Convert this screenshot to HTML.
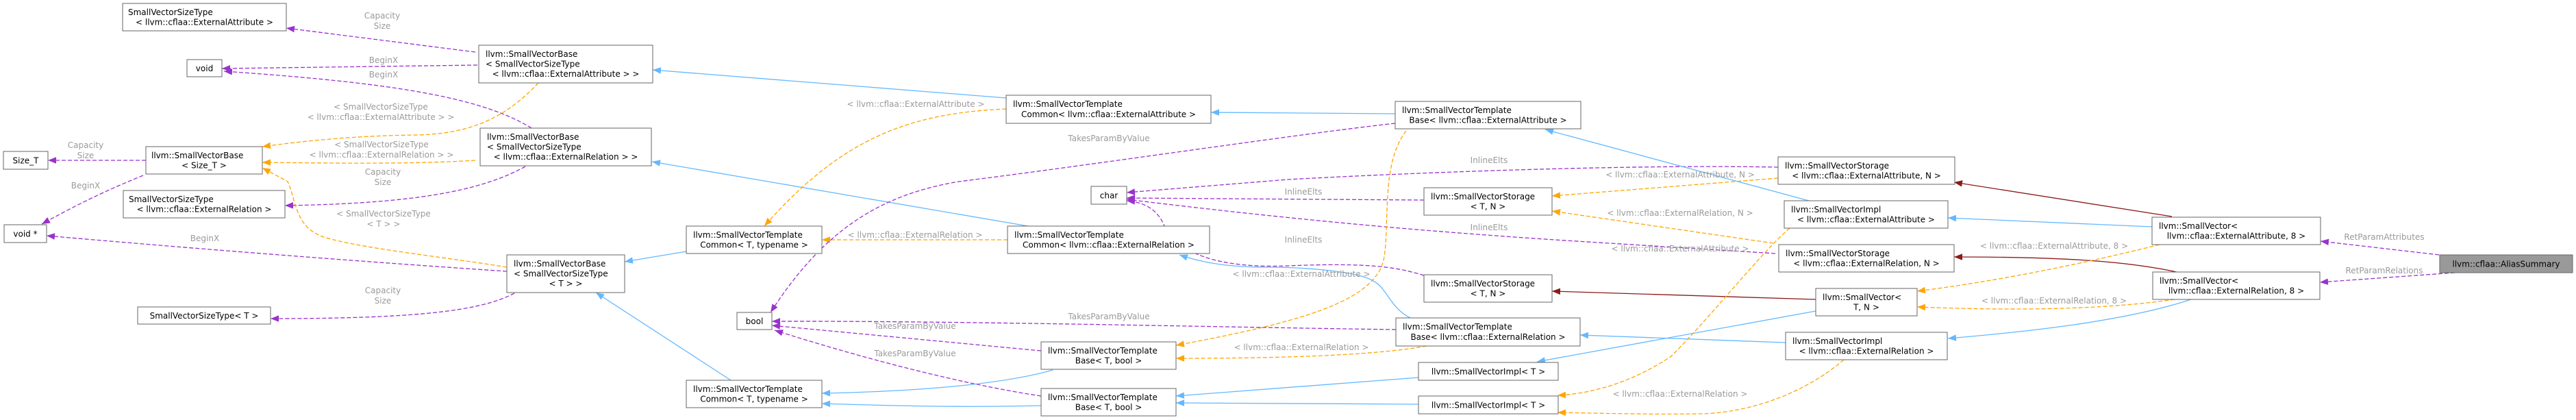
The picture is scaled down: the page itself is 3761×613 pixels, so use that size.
<!DOCTYPE html>
<html><head><meta charset="utf-8"><style>
html,body{margin:0;padding:0;background:#fff;}
svg{display:block;}
.n{fill:#fff;stroke:#666;stroke-width:1;}
.t{font-family:"DejaVu Sans","Liberation Sans",sans-serif;font-size:12px;fill:#000;}
.l{font-family:"DejaVu Sans","Liberation Sans",sans-serif;font-size:12px;fill:#9a9a9a;text-anchor:middle;}
.P{fill:none;stroke:#9a32cd;stroke-width:1.3;stroke-dasharray:6,3;}
.O{fill:none;stroke:#ffa500;stroke-width:1.3;stroke-dasharray:6,3;}
.B{fill:none;stroke:#63b8ff;stroke-width:1.3;}
.R{fill:none;stroke:#8b1a1a;stroke-width:1.3;}
</style></head><body>
<svg width="3761" height="613" viewBox="0 0 3761 613" xmlns="http://www.w3.org/2000/svg">
<defs>
<marker id="mP" markerUnits="userSpaceOnUse" markerWidth="12" markerHeight="10" viewBox="0 0 10 8" refX="10" refY="4" orient="auto"><path d="M0,0 L10,4 L0,8 z" fill="#9a32cd"/></marker>
<marker id="mO" markerUnits="userSpaceOnUse" markerWidth="12" markerHeight="10" viewBox="0 0 10 8" refX="10" refY="4" orient="auto"><path d="M0,0 L10,4 L0,8 z" fill="#ffa500"/></marker>
<marker id="mB" markerUnits="userSpaceOnUse" markerWidth="12" markerHeight="10" viewBox="0 0 10 8" refX="10" refY="4" orient="auto"><path d="M0,0 L10,4 L0,8 z" fill="#63b8ff"/></marker>
<marker id="mR" markerUnits="userSpaceOnUse" markerWidth="12" markerHeight="10" viewBox="0 0 10 8" refX="10" refY="4" orient="auto"><path d="M0,0 L10,4 L0,8 z" fill="#8b1a1a"/></marker>
</defs>

<!-- edges -->
<g>
<path class="P" marker-end="url(#mP)" d="M694,76 L418,41"/>
<path class="P" marker-end="url(#mP)" d="M697,95 L324,100"/>
<path class="P" marker-end="url(#mP)" d="M776,187 C700,140 560,120 327,104"/>
<path class="O" marker-end="url(#mO)" d="M786,121 C740,170 690,195 610,197 C520,198 450,205 383,214"/>
<path class="O" marker-end="url(#mO)" d="M694,234 C600,240 480,238 383,237"/>
<path class="P" marker-end="url(#mP)" d="M767,243 C700,280 600,297 416,300"/>
<path class="P" marker-end="url(#mP)" d="M213,234 L70,234"/>
<path class="P" marker-end="url(#mP)" d="M209,256 C150,280 110,300 61,327"/>
<path class="O" marker-end="url(#mO)" d="M740,390 C650,375 520,362 470,345 C430,330 432,290 420,265 L383,245"/>
<path class="P" marker-end="url(#mP)" d="M740,396 C500,380 250,360 68,344"/>
<path class="P" marker-end="url(#mP)" d="M751,428 C700,455 600,465 395,465"/>
<path class="B" marker-end="url(#mB)" d="M1002,367 L912,382"/>
<path class="B" marker-end="url(#mB)" d="M1067,555 L870,427"/>
<path class="B" marker-end="url(#mB)" d="M1469,143 L953,102"/>
<path class="B" marker-end="url(#mB)" d="M1501,330 L952,236"/>
<path class="O" marker-end="url(#mO)" d="M1469,159 C1330,165 1230,200 1116,330"/>
<path class="O" marker-end="url(#mO)" d="M1471,350 L1200,350"/>
<path class="P" marker-end="url(#mP)" d="M2037,180 C1900,195 1600,240 1400,265 C1280,285 1200,340 1125,456"/>
<path class="P" marker-end="url(#mP)" d="M2596,244 C2400,240 2100,250 1880,262 L1645,281"/>
<path class="P" marker-end="url(#mP)" d="M2079,292 L1645,289"/>
<path class="P" marker-end="url(#mP)" d="M2592,370 L2350,355 C2100,340 1900,322 1645,291"/>
<path class="P" marker-end="url(#mP)" d="M2079,402 C2040,390 2000,383 1880,388 C1780,392 1720,370 1700,330 C1690,305 1670,295 1645,293"/>
<path class="B" marker-end="url(#mB)" d="M2037,166 L1768,164"/>
<path class="O" marker-end="url(#mO)" d="M2053,191 C2015,240 2030,330 2020,380 C2005,440 1900,470 1717,504"/>
<path class="O" marker-end="url(#mO)" d="M2083,505 C2000,520 1850,523 1717,523"/>
<path class="P" marker-end="url(#mP)" d="M2038,481 C1800,478 1400,468 1127,469"/>
<path class="P" marker-end="url(#mP)" d="M1520,512 L1127,475"/>
<path class="P" marker-end="url(#mP)" d="M1520,578 C1400,560 1250,520 1131,482"/>
<path class="B" marker-end="url(#mB)" d="M1537,540 C1450,565 1300,572 1200,574"/>
<path class="B" marker-end="url(#mB)" d="M1520,592 C1400,595 1300,592 1200,589"/>
<path class="B" marker-end="url(#mB)" d="M2059,464 C2030,450 2025,420 2005,410 C1980,395 1900,390 1850,390 C1800,390 1760,385 1722,372"/>
<path class="B" marker-end="url(#mB)" d="M2641,293 L2256,189"/>
<path class="O" marker-end="url(#mO)" d="M2596,260 L2266,286"/>
<path class="O" marker-end="url(#mO)" d="M2589,355 L2266,308"/>
<path class="R" marker-end="url(#mR)" d="M2651,437 L2266,425"/>
<path class="B" marker-end="url(#mB)" d="M2651,454 L2244,528"/>
<path class="B" marker-end="url(#mB)" d="M2607,500 L2307,489"/>
<path class="B" marker-end="url(#mB)" d="M2071,551 L1717,578"/>
<path class="B" marker-end="url(#mB)" d="M2071,590 L1717,588"/>
<path class="O" marker-end="url(#mO)" d="M2613,333 C2570,370 2500,460 2440,520 C2380,560 2320,575 2274,577"/>
<path class="O" marker-end="url(#mO)" d="M2692,525 C2640,570 2560,603 2480,604 C2400,605 2330,603 2274,602"/>
<path class="R" marker-end="url(#mR)" d="M3171,316 L2853,266"/>
<path class="B" marker-end="url(#mB)" d="M3142,331 L2844,318"/>
<path class="R" marker-end="url(#mR)" d="M3178,397 C3100,380 3000,375 2853,375"/>
<path class="O" marker-end="url(#mO)" d="M3153,357 C3000,395 2880,415 2799,425"/>
<path class="O" marker-end="url(#mO)" d="M3175,437 C3050,455 2900,452 2799,448"/>
<path class="B" marker-end="url(#mB)" d="M3199,437 C3100,470 2950,485 2844,494"/>
<path class="P" marker-end="url(#mP)" d="M3570,373 L3388,352"/>
<path class="P" marker-end="url(#mP)" d="M3584,398 L3387,412"/>
</g>

<!-- edge labels -->
<g>
<text class="l" x="558" y="27">Capacity</text><text class="l" x="558" y="42">Size</text>
<text class="l" x="560" y="92">BeginX</text>
<text class="l" x="560" y="113">BeginX</text>
<text class="l" x="556" y="160">&lt; SmallVectorSizeType</text><text class="l" x="556" y="175">&lt; llvm::cflaa::ExternalAttribute &gt; &gt;</text>
<text class="l" x="557" y="215">&lt; SmallVectorSizeType</text><text class="l" x="557" y="230">&lt; llvm::cflaa::ExternalRelation &gt; &gt;</text>
<text class="l" x="125" y="216">Capacity</text><text class="l" x="125" y="231">Size</text>
<text class="l" x="559" y="255">Capacity</text><text class="l" x="559" y="270">Size</text>
<text class="l" x="125" y="275">BeginX</text>
<text class="l" x="560" y="316">&lt; SmallVectorSizeType</text><text class="l" x="560" y="331">&lt; T &gt; &gt;</text>
<text class="l" x="299" y="352">BeginX</text>
<text class="l" x="559" y="428">Capacity</text><text class="l" x="559" y="443">Size</text>
<text class="l" x="1337" y="156">&lt; llvm::cflaa::ExternalAttribute &gt;</text>
<text class="l" x="1336" y="347">&lt; llvm::cflaa::ExternalRelation &gt;</text>
<text class="l" x="1619" y="206">TakesParamByValue</text>
<text class="l" x="1619" y="466">TakesParamByValue</text>
<text class="l" x="1336" y="480">TakesParamByValue</text>
<text class="l" x="1336" y="520">TakesParamByValue</text>
<text class="l" x="2174" y="238">InlineElts</text>
<text class="l" x="1903" y="284">InlineElts</text>
<text class="l" x="2174" y="336">InlineElts</text>
<text class="l" x="1903" y="354">InlineElts</text>
<text class="l" x="2453" y="259">&lt; llvm::cflaa::ExternalAttribute, N &gt;</text>
<text class="l" x="2453" y="315">&lt; llvm::cflaa::ExternalRelation, N &gt;</text>
<text class="l" x="2453" y="367">&lt; llvm::cflaa::ExternalAttribute &gt;</text>
<text class="l" x="1900" y="404">&lt; llvm::cflaa::ExternalAttribute &gt;</text>
<text class="l" x="1900" y="511">&lt; llvm::cflaa::ExternalRelation &gt;</text>
<text class="l" x="2453" y="579">&lt; llvm::cflaa::ExternalRelation &gt;</text>
<text class="l" x="2999" y="363">&lt; llvm::cflaa::ExternalAttribute, 8 &gt;</text>
<text class="l" x="2999" y="443">&lt; llvm::cflaa::ExternalRelation, 8 &gt;</text>
<text class="l" x="3481" y="350">RetParamAttributes</text>
<text class="l" x="3481" y="399">RetParamRelations</text>
</g>

<!-- nodes -->
<g>
<rect class="n" x="179" y="5" width="239" height="40"/>
<text class="t" x="187" y="22">SmallVectorSizeType</text><text class="t" x="298.5" y="36.5" text-anchor="middle">&lt; llvm::cflaa::ExternalAttribute &gt;</text>

<rect class="n" x="273" y="87" width="51" height="25"/>
<text class="t" x="298.5" y="104" text-anchor="middle">void</text>

<rect class="n" x="5" y="221" width="65" height="26"/>
<text class="t" x="37.5" y="238.5" text-anchor="middle">Size_T</text>

<rect class="n" x="213" y="214" width="170" height="40"/>
<text class="t" x="221" y="231">llvm::SmallVectorBase</text><text class="t" x="298" y="245.5" text-anchor="middle">&lt; Size_T &gt;</text>

<rect class="n" x="180" y="278" width="236" height="40"/>
<text class="t" x="188" y="295">SmallVectorSizeType</text><text class="t" x="298" y="309.5" text-anchor="middle">&lt; llvm::cflaa::ExternalRelation &gt;</text>

<rect class="n" x="6" y="328" width="62" height="26"/>
<text class="t" x="37" y="345.5" text-anchor="middle">void *</text>

<rect class="n" x="201" y="448" width="194" height="25"/>
<text class="t" x="298" y="465" text-anchor="middle">SmallVectorSizeType&lt; T &gt;</text>

<rect class="n" x="699" y="66" width="254" height="55"/>
<text class="t" x="709" y="83">llvm::SmallVectorBase</text><text class="t" x="709" y="97.5">&lt; SmallVectorSizeType</text><text class="t" x="826" y="112" text-anchor="middle">&lt; llvm::cflaa::ExternalAttribute &gt; &gt;</text>

<rect class="n" x="701" y="187" width="250" height="55"/>
<text class="t" x="711" y="204">llvm::SmallVectorBase</text><text class="t" x="711" y="218.5">&lt; SmallVectorSizeType</text><text class="t" x="826" y="233" text-anchor="middle">&lt; llvm::cflaa::ExternalRelation &gt; &gt;</text>

<rect class="n" x="740" y="372" width="172" height="55"/>
<text class="t" x="750" y="389">llvm::SmallVectorBase</text><text class="t" x="750" y="403.5">&lt; SmallVectorSizeType</text><text class="t" x="826" y="418" text-anchor="middle">&lt; T &gt; &gt;</text>

<rect class="n" x="1469" y="139" width="299" height="41"/>
<text class="t" x="1479" y="156">llvm::SmallVectorTemplate</text><text class="t" x="1618.5" y="171" text-anchor="middle">Common&lt; llvm::cflaa::ExternalAttribute &gt;</text>

<rect class="n" x="1002" y="330" width="198" height="40"/>
<text class="t" x="1012" y="347">llvm::SmallVectorTemplate</text><text class="t" x="1101" y="361.5" text-anchor="middle">Common&lt; T, typename &gt;</text>

<rect class="n" x="1471" y="330" width="295" height="40"/>
<text class="t" x="1481" y="347">llvm::SmallVectorTemplate</text><text class="t" x="1618.5" y="361.5" text-anchor="middle">Common&lt; llvm::cflaa::ExternalRelation &gt;</text>

<rect class="n" x="1593" y="272" width="52" height="26"/>
<text class="t" x="1619" y="289.5" text-anchor="middle">char</text>

<rect class="n" x="1076" y="456" width="51" height="25"/>
<text class="t" x="1101.5" y="473" text-anchor="middle">bool</text>

<rect class="n" x="1520" y="499" width="197" height="40"/>
<text class="t" x="1530" y="516">llvm::SmallVectorTemplate</text><text class="t" x="1618.5" y="530.5" text-anchor="middle">Base&lt; T, bool &gt;</text>

<rect class="n" x="1002" y="555" width="198" height="40"/>
<text class="t" x="1012" y="572">llvm::SmallVectorTemplate</text><text class="t" x="1101" y="586.5" text-anchor="middle">Common&lt; T, typename &gt;</text>

<rect class="n" x="1520" y="567" width="197" height="40"/>
<text class="t" x="1530" y="584">llvm::SmallVectorTemplate</text><text class="t" x="1618.5" y="598.5" text-anchor="middle">Base&lt; T, bool &gt;</text>

<rect class="n" x="2037" y="148" width="271" height="40"/>
<text class="t" x="2047" y="165">llvm::SmallVectorTemplate</text><text class="t" x="2172.5" y="179.5" text-anchor="middle">Base&lt; llvm::cflaa::ExternalAttribute &gt;</text>

<rect class="n" x="2079" y="274" width="187" height="40"/>
<text class="t" x="2089" y="291">llvm::SmallVectorStorage</text><text class="t" x="2172.5" y="305.5" text-anchor="middle">&lt; T, N &gt;</text>

<rect class="n" x="2079" y="401" width="187" height="40"/>
<text class="t" x="2089" y="418">llvm::SmallVectorStorage</text><text class="t" x="2172.5" y="432.5" text-anchor="middle">&lt; T, N &gt;</text>

<rect class="n" x="2038" y="464" width="269" height="41"/>
<text class="t" x="2048" y="481">llvm::SmallVectorTemplate</text><text class="t" x="2172.5" y="496" text-anchor="middle">Base&lt; llvm::cflaa::ExternalRelation &gt;</text>

<rect class="n" x="2071" y="529" width="204" height="26"/>
<text class="t" x="2173" y="546.5" text-anchor="middle">llvm::SmallVectorImpl&lt; T &gt;</text>

<rect class="n" x="2071" y="578" width="204" height="26"/>
<text class="t" x="2173" y="595.5" text-anchor="middle">llvm::SmallVectorImpl&lt; T &gt;</text>

<rect class="n" x="2596" y="229" width="258" height="40"/>
<text class="t" x="2606" y="246">llvm::SmallVectorStorage</text><text class="t" x="2725" y="260.5" text-anchor="middle">&lt; llvm::cflaa::ExternalAttribute, N &gt;</text>

<rect class="n" x="2605" y="293" width="239" height="40"/>
<text class="t" x="2615" y="310">llvm::SmallVectorImpl</text><text class="t" x="2724.5" y="324.5" text-anchor="middle">&lt; llvm::cflaa::ExternalAttribute &gt;</text>

<rect class="n" x="2597" y="357" width="256" height="40"/>
<text class="t" x="2607" y="374">llvm::SmallVectorStorage</text><text class="t" x="2725" y="388.5" text-anchor="middle">&lt; llvm::cflaa::ExternalRelation, N &gt;</text>

<rect class="n" x="2651" y="421" width="148" height="40"/>
<text class="t" x="2661" y="438">llvm::SmallVector&lt;</text><text class="t" x="2725" y="452.5" text-anchor="middle">T, N &gt;</text>

<rect class="n" x="2607" y="485" width="236" height="40"/>
<text class="t" x="2617" y="502">llvm::SmallVectorImpl</text><text class="t" x="2725" y="516.5" text-anchor="middle">&lt; llvm::cflaa::ExternalRelation &gt;</text>

<rect class="n" x="3142" y="317" width="246" height="40"/>
<text class="t" x="3152" y="334">llvm::SmallVector&lt;</text><text class="t" x="3265" y="348.5" text-anchor="middle">llvm::cflaa::ExternalAttribute, 8 &gt;</text>

<rect class="n" x="3143" y="397" width="244" height="40"/>
<text class="t" x="3153" y="414">llvm::SmallVector&lt;</text><text class="t" x="3265" y="428.5" text-anchor="middle">llvm::cflaa::ExternalRelation, 8 &gt;</text>

<rect x="3562" y="372" width="194" height="26" fill="#999999" stroke="#666" stroke-width="1"/>
<text class="t" x="3659" y="389.5" text-anchor="middle">llvm::cflaa::AliasSummary</text>
</g>
</svg>
</body></html>
